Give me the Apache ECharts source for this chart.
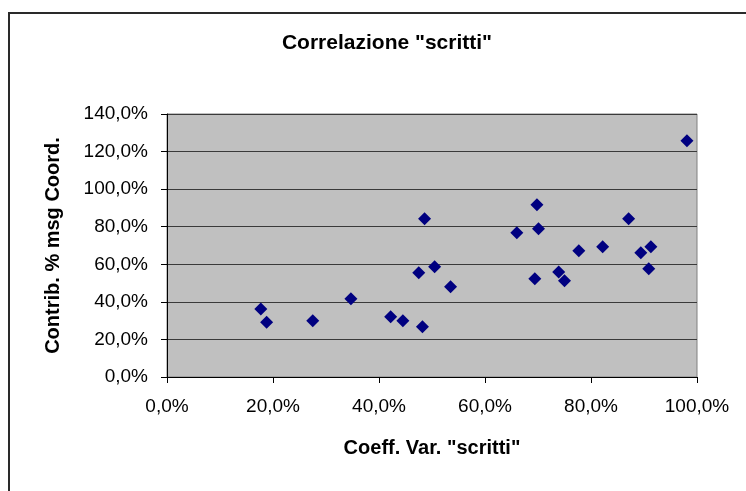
<!DOCTYPE html>
<html>
<head>
<meta charset="utf-8">
<script src="https://cdn.jsdelivr.net/npm/echarts@6/dist/echarts.min.js"></script>
<style>
html,body{margin:0;padding:0;background:#fff;}
#chart{width:746px;height:491px;}
</style>
</head>
<body>
<div id="chart"></div>
<script>
// Coeff. Var. "scritti" (%)
const coeffVar = [17.7, 18.8, 27.5, 34.7, 42.2, 44.5, 48.2, 47.5, 48.6, 50.5, 53.5,
  66.0, 69.8, 70.1, 69.4, 73.9, 75.0, 77.7, 82.2, 87.1, 89.4, 90.9, 91.3, 98.1];
// Contrib. % msg Coord. (%)
const contrib = [36.2, 29.1, 30.0, 41.7, 32.1, 30.0, 26.8, 55.5, 84.3, 58.7, 48.1,
  76.8, 91.7, 78.9, 52.3, 55.9, 51.3, 67.2, 69.4, 84.3, 66.2, 57.6, 69.4, 125.8];

const titleText = 'Correlazione "scritti"';
const xName = 'Coeff. Var. "scritti"';
const yName = 'Contrib. % msg Coord.';

const points = coeffVar.map((x, i) => [x, contrib[i]]);
const fmt = v => v.toFixed(1).replace('.', ',') + '%';
const FONT = '"Liberation Sans", Arial, sans-serif';

const chart = echarts.init(document.getElementById('chart'), null, {renderer: 'canvas'});
chart.setOption({
  animation: false,
  backgroundColor: '#ffffff',
  textStyle: {fontFamily: FONT},
  title: {
    text: titleText,
    left: 382, top: 28,
    textAlign: 'center',
    textStyle: {fontFamily: FONT, fontSize: 21, fontWeight: 'bold', color: '#000'}
  },
  graphic: [{
    type: 'rect',
    shape: {x: 9, y: 13, width: 800, height: 600},
    style: {fill: 'none', stroke: '#2a2a2a', lineWidth: 2},
    silent: true
  }],
  grid: {
    left: 167, top: 114, right: 49, bottom: 114,
    show: true, backgroundColor: '#c0c0c0',
    borderColor: '#808080', borderWidth: 1
  },
  xAxis: {
    type: 'value', min: 0, max: 100, interval: 20,
    name: xName, nameLocation: 'middle', nameGap: 61,
    nameTextStyle: {fontFamily: FONT, fontSize: 20, fontWeight: 'bold', color: '#000'},
    axisLine: {show: true, onZero: false, lineStyle: {color: '#000', width: 1}},
    axisTick: {show: true, length: 6, lineStyle: {color: '#000'}},
    axisLabel: {formatter: fmt, fontFamily: FONT, fontSize: 19, color: '#000', margin: 20},
    splitLine: {show: false}
  },
  yAxis: {
    type: 'value', min: 0, max: 140, interval: 20,
    name: yName, nameLocation: 'middle', nameGap: 104, nameRotate: 90,
    nameTextStyle: {fontFamily: FONT, fontSize: 20, fontWeight: 'bold', color: '#000'},
    axisLine: {show: true, onZero: false, lineStyle: {color: '#000', width: 1}},
    axisTick: {show: true, length: 6, lineStyle: {color: '#000'}},
    axisLabel: {formatter: fmt, fontFamily: FONT, fontSize: 19, color: '#000', margin: 19},
    splitLine: {show: true, lineStyle: {color: '#3a3a3a', width: 1}}
  },
  series: [{
    type: 'scatter',
    data: points,
    symbol: 'diamond',
    symbolSize: 13,
    itemStyle: {color: '#000080', opacity: 1}
  }]
});
</script>
</body>
</html>
